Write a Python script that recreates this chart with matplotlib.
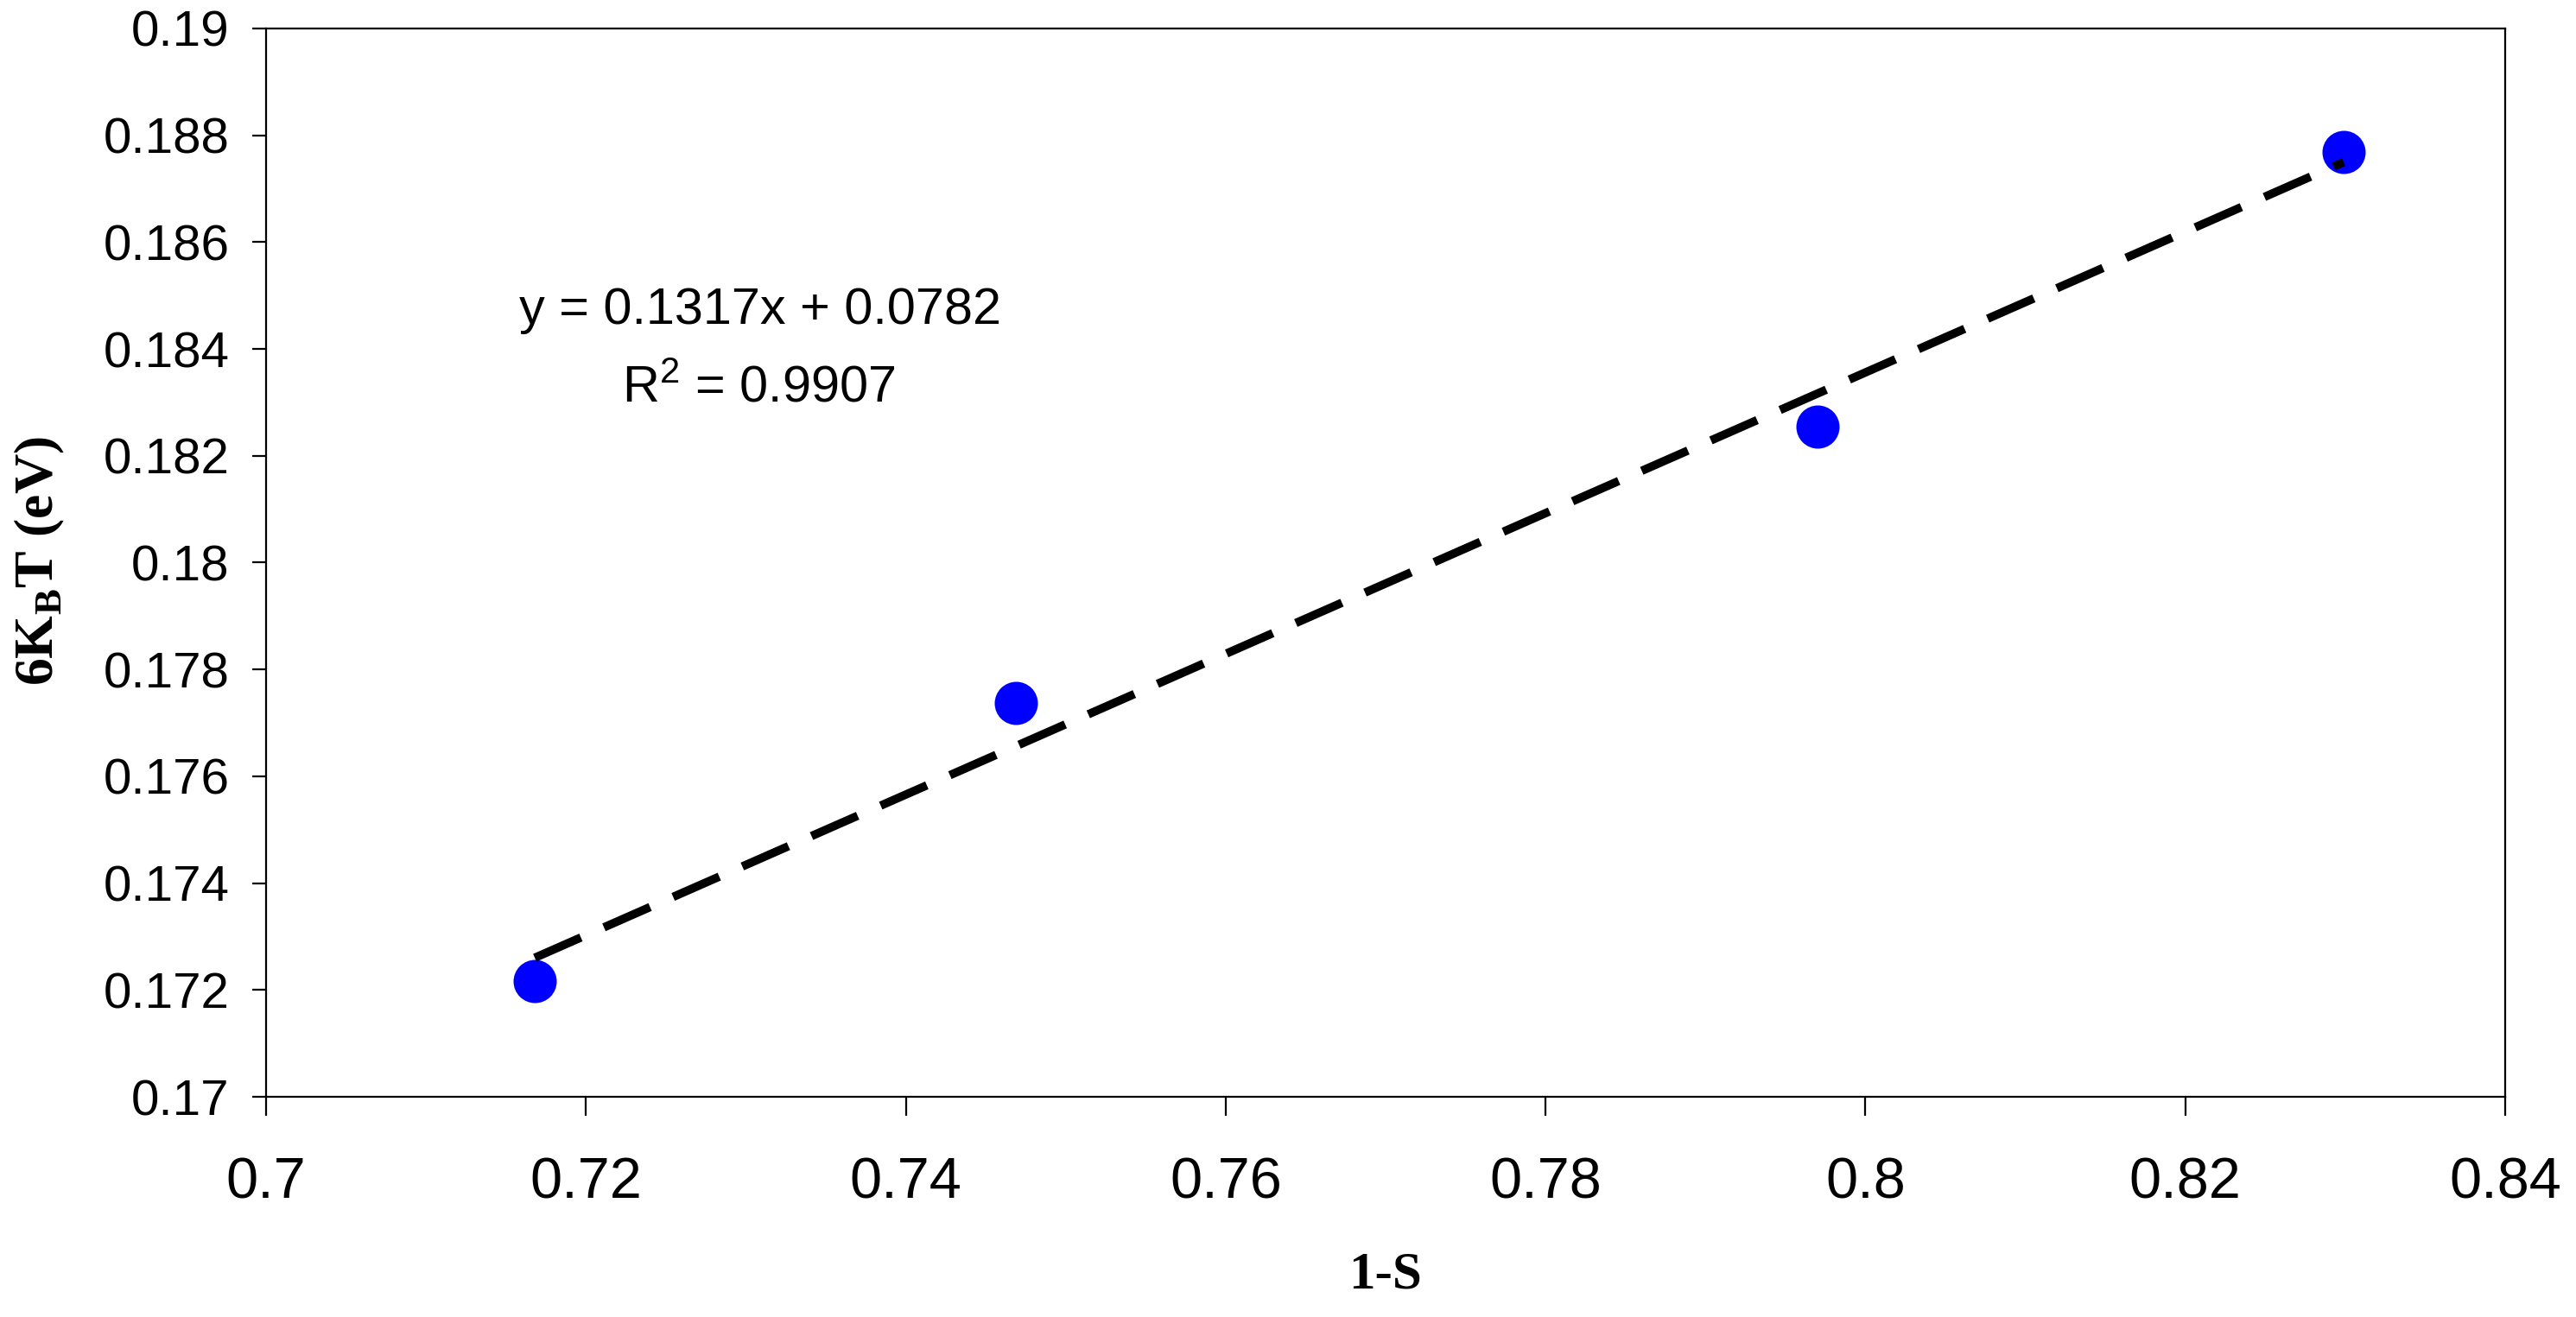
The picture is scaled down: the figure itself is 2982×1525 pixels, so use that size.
import numpy as np
import matplotlib
matplotlib.use('Agg')
import matplotlib.pyplot as plt

# data
one_minus_s = [0.7168, 0.7469, 0.7970, 0.8299]
six_kbt = [0.17217, 0.17737, 0.18255, 0.18769]

# trendline as printed on the chart
slope = 0.1317
intercept = 0.0782
r_squared = 0.9907

x_ticks = [0.70, 0.72, 0.74, 0.76, 0.78, 0.80, 0.82, 0.84]
x_tick_labels = ['0.7', '0.72', '0.74', '0.76', '0.78', '0.8', '0.82', '0.84']
y_ticks = [0.170, 0.172, 0.174, 0.176, 0.178, 0.180, 0.182, 0.184, 0.186, 0.188, 0.190]
y_tick_labels = ['0.17', '0.172', '0.174', '0.176', '0.178', '0.18',
                 '0.182', '0.184', '0.186', '0.188', '0.19']

#%% fonts
plt.rcParams['font.family'] = ['Liberation Sans', 'DejaVu Sans']
plt.rcParams['mathtext.fontset'] = 'custom'
plt.rcParams['mathtext.rm'] = 'Liberation Sans'
plt.rcParams['mathtext.bf'] = 'Liberation Serif:bold'

#%% figure
fig = plt.figure(figsize=(14.91, 7.625), dpi=200)
ax = fig.add_axes([0.1033, 0.1672, 0.8692, 0.8112])

x_fit = np.array([one_minus_s[0], one_minus_s[-1]])
y_fit = slope * x_fit + intercept

ax.plot(one_minus_s, six_kbt, 'o', color='#0000FF', ms=18, mec='none', zorder=2)
ax.plot(x_fit, y_fit, color='black', lw=3.5, linestyle=(0, (6, 3)),
        dash_capstyle='butt', zorder=3)

ax.set_xlim(0.70, 0.84)
ax.set_ylim(0.170, 0.190)
ax.set_xticks(x_ticks)
ax.set_xticklabels(x_tick_labels, fontsize=24)
ax.set_yticks(y_ticks)
ax.set_yticklabels(y_tick_labels, fontsize=21)
ax.tick_params(axis='x', direction='out', length=7.9, width=0.8, pad=17)
ax.tick_params(axis='y', direction='out', length=5.8, width=0.8, pad=9.5)
for sp in ax.spines.values():
    sp.set_linewidth(0.8)

# axis titles (bold serif)
fig.text(0.5379, 1 - 1492 / 1525, '1-S', ha='center', va='baseline',
         fontsize=22, fontweight='bold', family='Liberation Serif')
fig.text(46 / 2982, 1 - 650 / 1525, r'6K$_\mathbf{B}$T (eV)', ha='center', va='center',
         rotation=90, fontsize=23, fontweight='bold', family='Liberation Serif')

# trendline equation
fig.text(880 / 2982, 1 - 375 / 1525, 'y = %.4fx + %.4f' % (slope, intercept),
         ha='center', va='baseline', fontsize=21.4)
fig.text(878 / 2982, 1 - 465 / 1525, r'R$^\mathrm{2}$ = %.4f' % r_squared,
         ha='center', va='baseline', fontsize=21.4)

fig.savefig('out.png', dpi=200)
